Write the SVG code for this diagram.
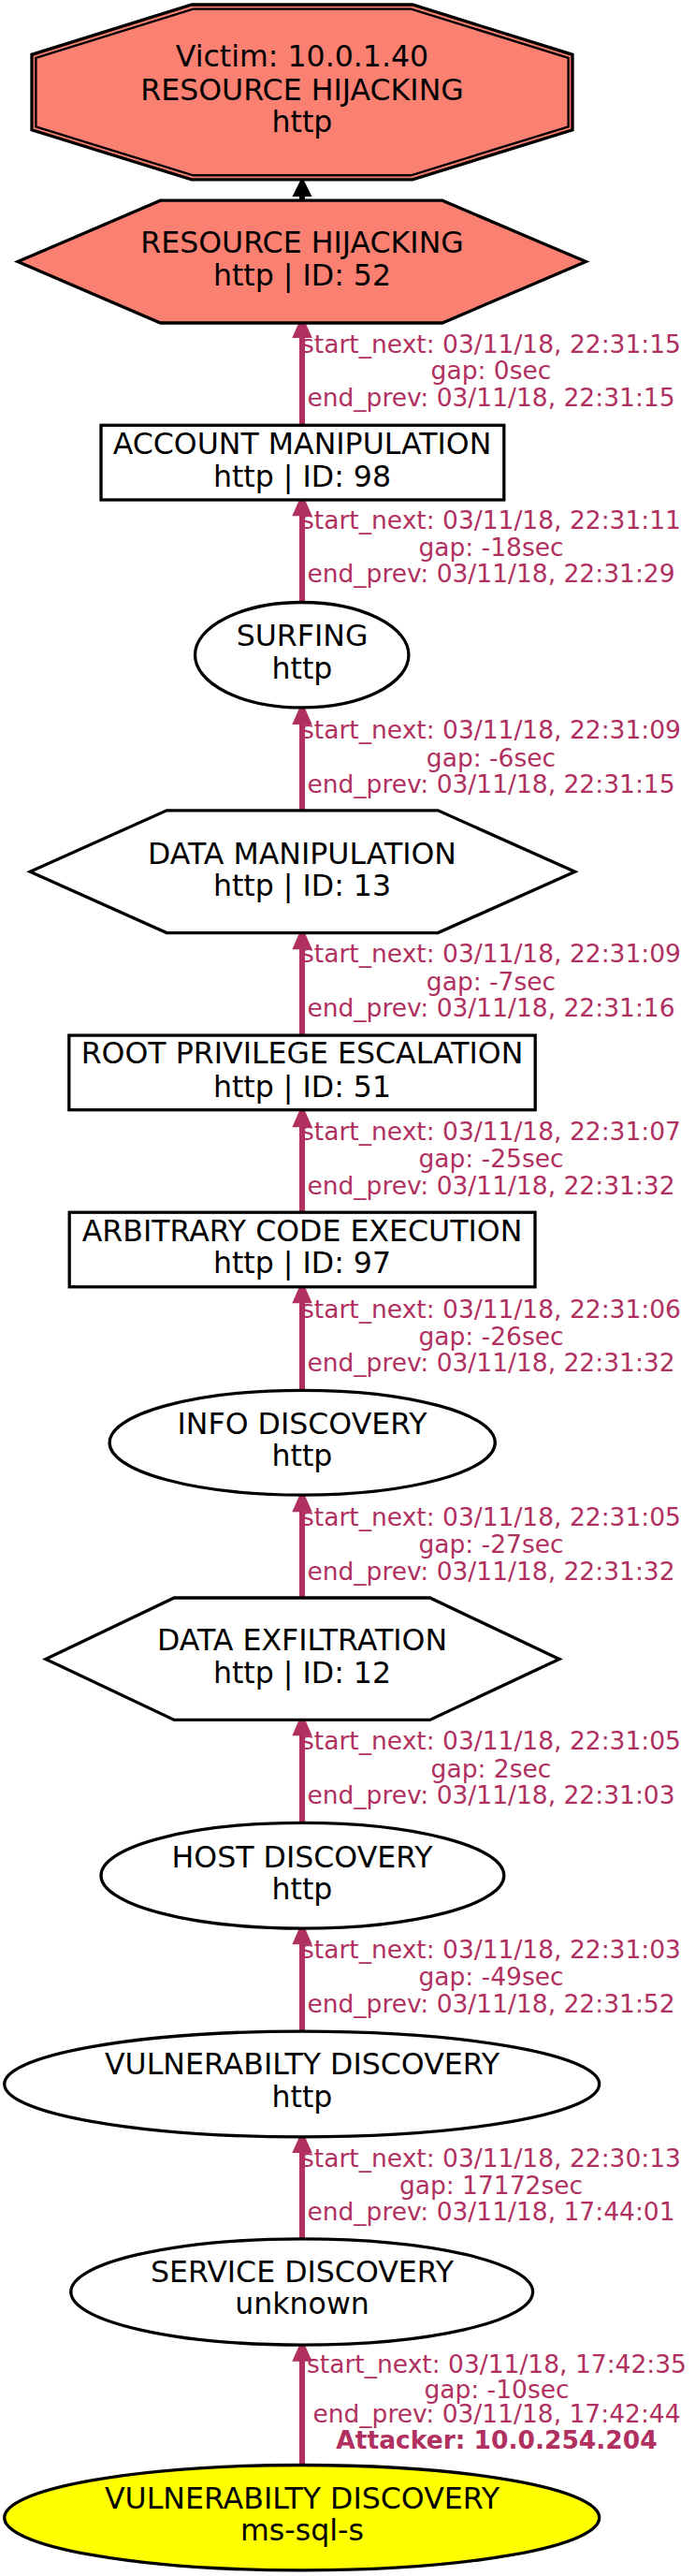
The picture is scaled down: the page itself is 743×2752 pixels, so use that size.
<svg xmlns="http://www.w3.org/2000/svg" width="743" height="2752" viewBox="0 0 743 2752">
<style>
.n{stroke:#000;stroke-width:3.3;fill:#fff}
.s{fill:#fa8072}
.y{fill:#ffff00}
.t{font-family:"DejaVu Sans",sans-serif;font-size:31.6px;text-anchor:middle;fill:#000}
.e line{stroke:#b03060;stroke-width:6}
.e polygon{fill:#b03060}
.l{font-family:"DejaVu Sans",sans-serif;font-size:26.5px;text-anchor:middle;fill:#b03060}
.b{font-weight:bold}
</style>
<rect width="743" height="2752" fill="#fff"/>
<g id="connectors" class="e">
<line x1="323" y1="214" x2="323" y2="208" style="stroke:#000"/>
<polygon points="323,189 312.5,210 333.5,210" style="fill:#000"/>
<line x1="323" y1="454" x2="323" y2="358"/><polygon points="323,336.7 312.3,361 333.7,361"/>
<line x1="323" y1="643" x2="323" y2="548"/><polygon points="323,527 312.3,551.3 333.7,551.3"/>
<line x1="323" y1="865" x2="323" y2="771"/><polygon points="323,749.8 312.3,774.1 333.7,774.1"/>
<line x1="323" y1="1106" x2="323" y2="1011"/><polygon points="323,990 312.3,1014.3 333.7,1014.3"/>
<line x1="323" y1="1295" x2="323" y2="1201"/><polygon points="323,1180 312.3,1204.3 333.7,1204.3"/>
<line x1="323" y1="1485" x2="323" y2="1389"/><polygon points="323,1368 312.3,1392.3 333.7,1392.3"/>
<line x1="323" y1="1707" x2="323" y2="1612"/><polygon points="323,1591 312.3,1615.3 333.7,1615.3"/>
<line x1="323" y1="1947" x2="323" y2="1851"/><polygon points="323,1830 312.3,1854.3 333.7,1854.3"/>
<line x1="323" y1="2170" x2="323" y2="2074"/><polygon points="323,2053 312.3,2077.3 333.7,2077.3"/>
<line x1="323" y1="2392" x2="323" y2="2297"/><polygon points="323,2275.8 312.3,2300.1 333.7,2300.1"/>
<line x1="323" y1="2633" x2="323" y2="2519"/><polygon points="323,2498.5 312.3,2522.8 333.7,2522.8"/>
<text class="l"><tspan x="525" y="376.7">start_next: 03/11/18, 22:31:15</tspan><tspan x="525" y="405.1">gap: 0sec</tspan><tspan x="525" y="433.6">end_prev: 03/11/18, 22:31:15</tspan></text>
<text class="l"><tspan x="525" y="565.3">start_next: 03/11/18, 22:31:11</tspan><tspan x="525" y="593.7">gap: -18sec</tspan><tspan x="525" y="622.2">end_prev: 03/11/18, 22:31:29</tspan></text>
<text class="l"><tspan x="525" y="789.1">start_next: 03/11/18, 22:31:09</tspan><tspan x="525" y="818.5">gap: -6sec</tspan><tspan x="525" y="846.9">end_prev: 03/11/18, 22:31:15</tspan></text>
<text class="l"><tspan x="525" y="1028.4">start_next: 03/11/18, 22:31:09</tspan><tspan x="525" y="1057.8">gap: -7sec</tspan><tspan x="525" y="1086.2">end_prev: 03/11/18, 22:31:16</tspan></text>
<text class="l"><tspan x="525" y="1217.9">start_next: 03/11/18, 22:31:07</tspan><tspan x="525" y="1247.3">gap: -25sec</tspan><tspan x="525" y="1275.7">end_prev: 03/11/18, 22:31:32</tspan></text>
<text class="l"><tspan x="525" y="1407.5">start_next: 03/11/18, 22:31:06</tspan><tspan x="525" y="1436.8">gap: -26sec</tspan><tspan x="525" y="1465.4">end_prev: 03/11/18, 22:31:32</tspan></text>
<text class="l"><tspan x="525" y="1629.8">start_next: 03/11/18, 22:31:05</tspan><tspan x="525" y="1659.2">gap: -27sec</tspan><tspan x="525" y="1687.6">end_prev: 03/11/18, 22:31:32</tspan></text>
<text class="l"><tspan x="525" y="1869.1">start_next: 03/11/18, 22:31:05</tspan><tspan x="525" y="1898.5">gap: 2sec</tspan><tspan x="525" y="1926.9">end_prev: 03/11/18, 22:31:03</tspan></text>
<text class="l"><tspan x="525" y="2091.8">start_next: 03/11/18, 22:31:03</tspan><tspan x="525" y="2121.2">gap: -49sec</tspan><tspan x="525" y="2149.7">end_prev: 03/11/18, 22:31:52</tspan></text>
<text class="l"><tspan x="525" y="2314.6">start_next: 03/11/18, 22:30:13</tspan><tspan x="525" y="2344">gap: 17172sec</tspan><tspan x="525" y="2372.4">end_prev: 03/11/18, 17:44:01</tspan></text>
<text class="l"><tspan x="531" y="2535">start_next: 03/11/18, 17:42:35</tspan><tspan x="531" y="2562">gap: -10sec</tspan><tspan x="531" y="2588">end_prev: 03/11/18, 17:42:44</tspan><tspan x="531" y="2615.5" class="b">Attacker: 10.0.254.204</tspan></text>
</g>
<g id="victim">
<polygon class="n s" points="205,5 441,5 612,58.3 612,138.8 441,191.9 205,191.9 34,138.8 34,58.3"/>
<polygon class="n s" style="stroke-width:2.4" points="206.5,9.6 439.5,9.6 607.6,61.8 607.6,135.3 439.5,187.3 206.5,187.3 38.4,135.3 38.4,61.8"/>
<text class="t"><tspan x="323" y="71.1">Victim: 10.0.1.40</tspan><tspan x="323" y="106.6">RESOURCE HIJACKING</tspan><tspan x="323" y="141.2">http</tspan></text>
</g>
<g id="rh52">
<polygon class="n s" points="171.5,214.2 472.9,214.2 626.4,279.6 472.9,345 171.5,345 19,279.6"/>
<text class="t"><tspan x="323" y="270.1">RESOURCE HIJACKING</tspan><tspan x="323" y="304.7">http | ID: 52</tspan></text>
</g>
<g id="acct98">
<rect class="n" x="108" y="454.3" width="430.8" height="79.7"/>
<text class="t"><tspan x="323" y="484.7">ACCOUNT MANIPULATION</tspan><tspan x="323" y="519.8">http | ID: 98</tspan></text>
</g>
<g id="surfing">
<ellipse class="n" cx="322.7" cy="699.7" rx="114.2" ry="56.2"/>
<text class="t"><tspan x="323" y="690.4">SURFING</tspan><tspan x="323" y="725">http</tspan></text>
</g>
<g id="dm13">
<polygon class="n" points="178.2,865.8 468.2,865.8 614.6,931.2 468.2,996.6 178.2,996.6 32.2,931.2"/>
<text class="t"><tspan x="323" y="922.7">DATA MANIPULATION</tspan><tspan x="323" y="957.3">http | ID: 13</tspan></text>
</g>
<g id="root51">
<rect class="n" x="73.8" y="1106.1" width="498.4" height="79.6"/>
<text class="t"><tspan x="323" y="1135.9">ROOT PRIVILEGE ESCALATION</tspan><tspan x="323" y="1171.5">http | ID: 51</tspan></text>
</g>
<g id="ace97">
<rect class="n" x="74.2" y="1295.2" width="497.8" height="79.6"/>
<text class="t"><tspan x="323" y="1325.5">ARBITRARY CODE EXECUTION</tspan><tspan x="323" y="1360.1">http | ID: 97</tspan></text>
</g>
<g id="info">
<ellipse class="n" cx="323.2" cy="1541.2" rx="206.1" ry="55.9"/>
<text class="t"><tspan x="323" y="1531.7">INFO DISCOVERY</tspan><tspan x="323" y="1565.8">http</tspan></text>
</g>
<g id="exfil12">
<polygon class="n" points="186.2,1707 459.6,1707 598,1772.4 459.6,1837.4 186.2,1837.4 48.8,1772.4"/>
<text class="t"><tspan x="323" y="1762.5">DATA EXFILTRATION</tspan><tspan x="323" y="1798">http | ID: 12</tspan></text>
</g>
<g id="host">
<ellipse class="n" cx="323.4" cy="2003.7" rx="215.4" ry="56.4"/>
<text class="t"><tspan x="323" y="1994.7">HOST DISCOVERY</tspan><tspan x="323" y="2028.8">http</tspan></text>
</g>
<g id="vulnhttp">
<ellipse class="n" cx="322.7" cy="2226.5" rx="318" ry="56.4"/>
<text class="t"><tspan x="323" y="2216.1">VULNERABILTY DISCOVERY</tspan><tspan x="323" y="2250.7">http</tspan></text>
</g>
<g id="service">
<ellipse class="n" cx="322.7" cy="2448.5" rx="246.9" ry="56.6"/>
<text class="t"><tspan x="323" y="2437.8">SERVICE DISCOVERY</tspan><tspan x="323" y="2472.4">unknown</tspan></text>
</g>
<g id="vulnsql">
<ellipse class="n y" cx="322.7" cy="2689.7" rx="318" ry="56.2"/>
<text class="t"><tspan x="323" y="2679.5">VULNERABILTY DISCOVERY</tspan><tspan x="323" y="2714.1">ms-sql-s</tspan></text>
</g>
</svg>
